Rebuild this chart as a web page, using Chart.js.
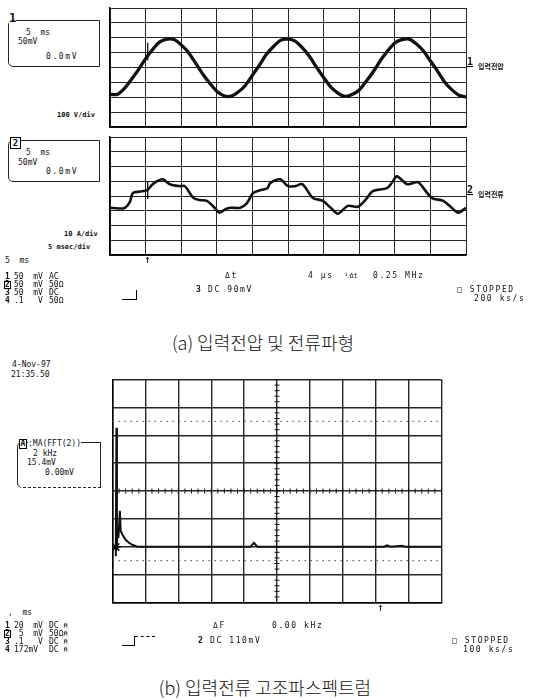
<!DOCTYPE html>
<html><head><meta charset="utf-8">
<script src="https://cdn.jsdelivr.net/npm/chart.js@4.4.1/dist/chart.umd.min.js"></script>
<style>
html,body{margin:0;padding:0;background:#fff;width:537px;height:700px;overflow:hidden;position:relative}
canvas{position:absolute}
.t{position:absolute;font-family:"DejaVu Sans Mono",monospace;font-size:8px;line-height:8px;color:#111;white-space:pre}
.b{font-weight:bold}
.w{letter-spacing:1.6px}
.k{position:absolute;font-family:"Noto Sans CJK KR",sans-serif;white-space:pre;color:#111}
.box{position:absolute;border:1px solid #222}
</style>
</head><body>
<canvas id="c1" width="368" height="131" style="left:104px;top:2px"></canvas>
<canvas id="c2" width="368" height="130" style="left:104px;top:131px"></canvas>
<canvas id="c3" width="342" height="236" style="left:106px;top:373px"></canvas>

<!-- top panel annotations -->
<div class="box" style="left:8px;top:20px;width:90px;height:45px;border-radius:5px 0 0 5px"></div>
<div class="t b" style="left:9px;top:12px;font-size:12px;line-height:12px;background:#fff">1</div>
<div class="t" style="left:26px;top:29px">5  ms</div>
<div class="t" style="left:18px;top:38px">50mV</div>
<div class="t w" style="left:46px;top:53px">0.0mV</div>
<div class="t b" style="left:57px;top:112px;font-size:7px;line-height:7px">100 V/div</div>

<div class="box" style="left:8px;top:140px;width:90px;height:40px;border-radius:5px 0 0 5px"></div>
<div class="t b" style="left:10px;top:137px;width:9px;height:10px;font-size:9px;line-height:10px;border:1px solid #000;background:#fff;text-align:center">2</div>
<div class="t" style="left:26px;top:149px">5  ms</div>
<div class="t" style="left:18px;top:159px">50mV</div>
<div class="t w" style="left:46px;top:168px">0.0mV</div>
<div class="t b" style="left:64px;top:231px;font-size:7px;line-height:7px">10 A/div</div>
<div class="t b" style="left:48px;top:244px;font-size:7px;line-height:7px">5 msec/div</div>
<div class="t" style="left:5px;top:257px">5  ms</div>
<div class="t" style="left:144px;top:254px;font-size:11px;line-height:11px">↑</div>

<div class="t b" style="left:5px;top:273px">1</div><div class="t" style="left:14px;top:273px">50  mV</div><div class="t" style="left:49px;top:273px">AC</div>
<div class="t b" style="left:4px;top:281px;border:1px solid #000;line-height:6px;height:6px">2</div><div class="t" style="left:14px;top:281px">50  mV</div><div class="t" style="left:49px;top:281px">50Ω</div>
<div class="t b" style="left:5px;top:289px">3</div><div class="t" style="left:14px;top:289px">50  mV</div><div class="t" style="left:49px;top:289px">DC</div>
<div class="t b" style="left:5px;top:297px">4</div><div class="t" style="left:14px;top:297px">.1   V</div><div class="t" style="left:49px;top:297px">50Ω</div>

<div style="position:absolute;left:122px;top:299px;width:14px;height:0;border-top:1.5px solid #000"></div>
<div style="position:absolute;left:136px;top:290px;width:0;height:10px;border-left:1.5px solid #000"></div>
<div class="t b" style="left:196px;top:286px">3</div><div class="t w" style="left:208px;top:286px">DC 90mV</div>
<div class="t w" style="left:225px;top:272px">Δt</div>
<div class="t w" style="left:308px;top:272px">4 µs</div>
<div class="t" style="left:344px;top:272px;font-size:7px">¹⁄Δt</div>
<div class="t w" style="left:373px;top:272px">0.25 MHz</div>
<div class="t w" style="left:457px;top:286px">□ STOPPED</div>
<div class="t w" style="left:474px;top:295px">200 ks/s</div>

<div class="t b" style="left:467px;top:57px;font-size:10px;line-height:10px">1</div>
<div style="position:absolute;left:466px;top:66px;width:7px;border-top:1.5px solid #000"></div>
<div class="k" style="left:478px;top:62px;font-size:7px;line-height:9px;font-weight:bold">입력전압</div>
<div class="t b" style="left:467px;top:185px;font-size:10px;line-height:10px">2</div>
<div style="position:absolute;left:466px;top:194px;width:7px;border-top:1.5px solid #000"></div>
<div class="k" style="left:478px;top:190px;font-size:7px;line-height:9px;font-weight:bold">입력전류</div>

<div class="k" style="left:0;width:526px;text-align:center;top:330px;font-size:18px;line-height:24px;font-weight:300">(a) 입력전압 및 전류파형</div>

<!-- bottom panel annotations -->
<div class="t" style="left:12px;top:361px">4-Nov-97</div>
<div class="t" style="left:11px;top:371px">21:35.50</div>
<div style="position:absolute;left:17px;top:442px;width:82px;height:44px;border:1px solid #222;border-bottom:1.5px dashed #222;border-radius:5px 0 0 5px"></div>
<div class="t b" style="left:19px;top:439px;border:1px solid #000;height:8px;width:6px;text-align:center;background:#fff">A</div>
<div class="t" style="left:28px;top:440px;background:#fff">:MA(FFT(2))</div>
<div class="t" style="left:33px;top:450px">2 kHz</div>
<div class="t" style="left:27px;top:459px">15.4mV</div>
<div class="t" style="left:45px;top:469px">0.00mV</div>

<div class="t" style="left:8px;top:609px">,  ms</div>
<div class="t b" style="left:5px;top:622px">1</div><div class="t" style="left:14px;top:622px">20  mV</div><div class="t" style="left:49px;top:622px">DC ⍝</div>
<div class="t b" style="left:4px;top:630px;border:1px solid #000;line-height:6px;height:6px">2</div><div class="t" style="left:14px;top:630px"> 5  mV</div><div class="t" style="left:49px;top:630px">50Ω⍝</div>
<div class="t b" style="left:5px;top:638px">3</div><div class="t" style="left:14px;top:638px">.1   V</div><div class="t" style="left:49px;top:638px">DC ⍝</div>
<div class="t b" style="left:5px;top:646px">4</div><div class="t" style="left:14px;top:646px">172mV</div><div class="t" style="left:49px;top:646px">DC ⍝</div>

<div style="position:absolute;left:122px;top:645px;width:13px;height:0;border-top:1.5px solid #000"></div>
<div style="position:absolute;left:134px;top:636px;width:0;height:10px;border-left:1.5px solid #000"></div>
<div style="position:absolute;left:135px;top:636px;width:20px;height:0;border-top:1px dashed #000"></div>
<div class="t b" style="left:198px;top:637px">2</div><div class="t w" style="left:210px;top:637px">DC 110mV</div>
<div class="t w" style="left:213px;top:622px">ΔF</div>
<div class="t w" style="left:272px;top:622px">0.00 kHz</div>
<div class="t w" style="left:452px;top:637px">□ STOPPED</div>
<div class="t w" style="left:463px;top:646px">100 ks/s</div>
<div class="t" style="left:377px;top:602px;font-size:11px;line-height:11px">↑</div>

<div class="k" style="left:0;width:530px;text-align:center;top:675px;font-size:18px;line-height:24px;font-weight:300">(b) 입력전류 고조파스펙트럼</div>

<script>
// ---- data ----
const timeMs = [0,1,2,3,4,5,6,7,8,9,10,11,12,13,14,15,16,17,18,19,20,21,22,23,24,25,26,27,28,29,30,31,32,33,34,35,36,37,38,39,40,41,42,43,44,45,46,47,48,49,50];
const voltageV = [-180,-181,-142,-80,-14,60,122,172,190,188,152,103,31,-42,-105,-160,-190,-193,-165,-121,-52,17,90,143,184,191,177,133,76,2,-67,-131,-172,-194,-182,-151,-92,-27,49,112,165,188,191,160,113,44,-24,-97,-149,-186,-198];
const currentT = [0,1.2,2.1,2.8,3.2,4.2,5.2,6.0,6.6,7.4,8.4,9.8,10.5,11.7,12.6,13.6,14.5,15.4,16.2,16.9,18.3,19.2,20.1,21.2,22.1,22.5,23.9,25.0,26.0,27.0,28.5,29.9,31.0,32.0,33.4,34.8,36.0,36.9,38.9,39.6,40.3,41.7,42.5,43.3,45.2,46.8,48.0,48.9,50];
const currentA = [-8,-8.5,-8,-4,2,3,4,8,10,11.3,8,6.7,6.7,-1.3,-2.7,-3.3,-7,-11.3,-9,-8,-8,-5,2,4,5.3,8.7,11.3,6.7,6.7,8,-1.3,-3.3,-8,-12,-6.7,-7.3,-2,3.3,5.3,9,13.3,8,8.7,9.3,-1.3,-3.3,-8,-11.3,-8];
const cursorT = 5.3;
const cursorV = [167, 47];
const cursorA = [10, -2];
const fftKHz = [0.2,0.24,0.27,0.30,0.36,0.45,0.5,0.6,0.8,1.0,1.2,1.5,3,5,7,8.4,8.6,8.8,12,16.5,16.7,16.9,17.6,17.8,20];
const fftMV  = [-36,35,-30,-21,-26,-11,-22,-24,-27,-28.6,-29.7,-30.8,-30.8,-30.8,-30.8,-30.8,-28.6,-30.8,-30.8,-30.8,-30,-30.8,-30.3,-30.8,-30.8];
const fftMarker = {x:0.2, y:-31};
const timeTicks = [0,5,10,15,20,25,30,35,40,45,50];
const voltTicks = [-400,-300,-200,-100,0,100,200,300,400];
const ampTicks = [-40,-30,-20,-10,0,10,20,30,40];
const freqTicks = [0,2,4,6,8,10,12,14,16,18,20];
const mvTicks = [-61.6,-46.2,-30.8,-15.4,0,15.4,30.8,46.2,61.6];

const zip = (xs, ys) => xs.map((x,i)=>({x, y: ys[i]}));

function axis(ticks, min, max, lw){
  return {
    type:'linear', min, max,
    afterBuildTicks: s => { s.ticks = ticks.map(v=>({value:v})); },
    ticks:{display:false},
    grid:{color:'#262626', lineWidth:lw||1, drawTicks:false},
    border:{color:'#000', width:1.5}
  };
}
const base = () => ({
  responsive:false, animation:false, devicePixelRatio:1,
  layout:{padding:6},
  plugins:{legend:{display:false}, tooltip:{enabled:false}},
  elements:{point:{radius:0}}
});

new Chart(document.getElementById('c1'), {
  type:'line',
  data:{datasets:[
    {data: zip(timeMs, voltageV), borderColor:'#111', borderWidth:3.3, tension:0.25},
    {data: cursorV.map(v=>({x:cursorT,y:v})), borderColor:'#000', borderWidth:1.2}
  ]},
  options:Object.assign(base(), {scales:{x:axis(timeTicks,0,50), y:axis(voltTicks,-400,400)}})
});

new Chart(document.getElementById('c2'), {
  type:'line',
  data:{datasets:[
    {data: zip(currentT, currentA), borderColor:'#111', borderWidth:2.6, tension:0.3},
    {data: cursorA.map(v=>({x:cursorT,y:v})), borderColor:'#000', borderWidth:1.2}
  ]},
  options:Object.assign(base(), {scales:{x:axis(timeTicks,0,50), y:axis(ampTicks,-40,40)}})
});

const centerPlugin = {
  id:'centerTicks',
  afterDatasetsDraw(chart){
    const {ctx, chartArea:a, scales:{x,y}} = chart;
    const cx = x.getPixelForValue(10), cy = y.getPixelForValue(0);
    const ln=(x1,y1,x2,y2)=>{ctx.beginPath();ctx.moveTo(x1,y1);ctx.lineTo(x2,y2);ctx.stroke();};
    ctx.save();
    ctx.strokeStyle='#444'; ctx.lineWidth=1; ctx.setLineDash([1.5,4.5]);
    [38.5,-38.5].forEach(v=>{const py=y.getPixelForValue(v); ln(a.left,py,a.right,py);});
    ctx.setLineDash([]); ctx.strokeStyle='#111';
    for(let v=0; v<=20.001; v+=0.4){const px=x.getPixelForValue(v); ln(px,cy-2.5,px,cy+2.5);}
    for(let v=-61.6; v<=61.61; v+=3.08){const py=y.getPixelForValue(v); ln(cx-2.5,py,cx+2.5,py);}
    ctx.restore();
  }
};

new Chart(document.getElementById('c3'), {
  type:'line',
  data:{datasets:[
    {data: zip(fftKHz, fftMV), borderColor:'#111', borderWidth:2, tension:0},
    {data:[fftMarker], showLine:false, pointStyle:'star', pointRadius:5, borderColor:'#000', borderWidth:1.5}
  ]},
  options:Object.assign(base(), {scales:{x:axis(freqTicks,0,20,1.4), y:axis(mvTicks,-61.6,61.6,1.4)}}),
  plugins:[centerPlugin]
});
</script>
</body></html>
